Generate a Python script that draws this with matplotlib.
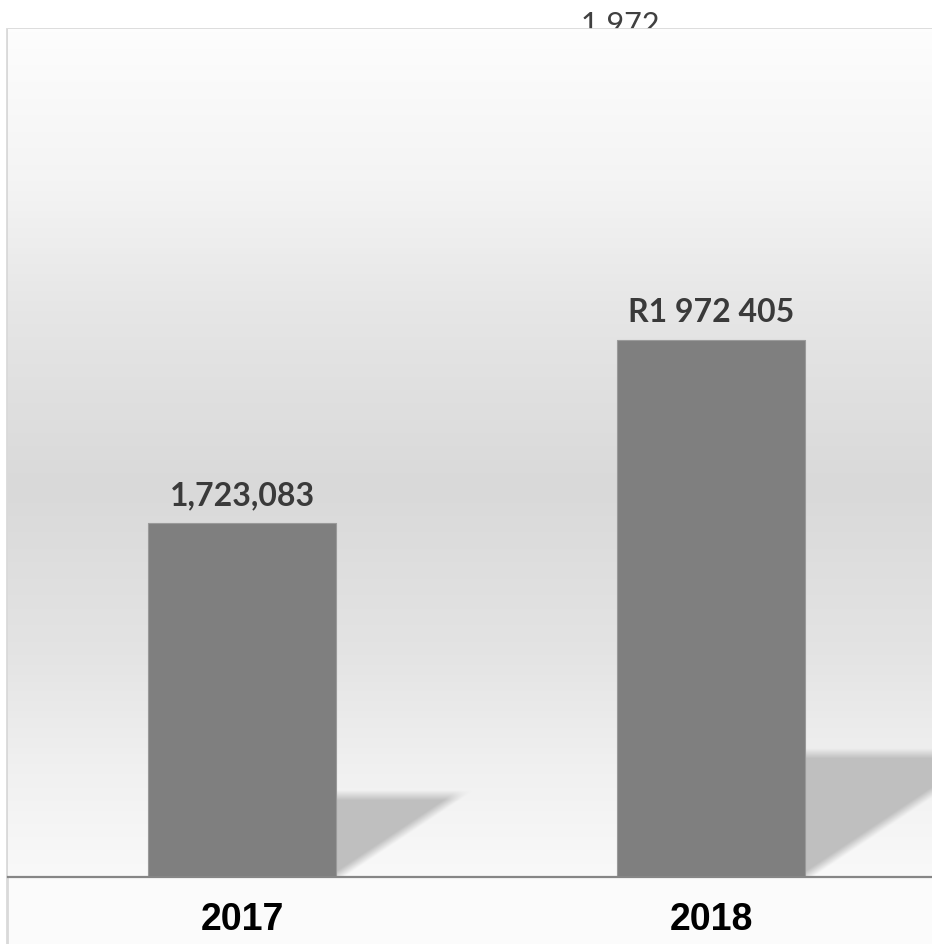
import numpy as np
import matplotlib
matplotlib.use("Agg")
import matplotlib.pyplot as plt
from matplotlib.colors import LinearSegmentedColormap
from matplotlib.patches import Rectangle

# data
years = ["2017", "2018"]
totals = [1723083, 1972405]
bar_labels = ["1,723,083", "R1 972 405"]
stray_label = "1 972"

W, H = 932, 944
fig = plt.figure(figsize=(W / 100, H / 100), dpi=100)
fig.patch.set_facecolor("white")

# outer chart frame (runs off the right and bottom edges)
frame = Rectangle((7 / W, -0.1), 1.2, (H - 29) / H + 0.1, transform=fig.transFigure,
                  facecolor="#fbfbfb", edgecolor="#d9d9d9", linewidth=2, zorder=-2)
fig.patches.append(frame)

# leftover label sitting behind the frame
fig.text(620 / W, 1 - 34 / H, stray_label, ha="center", va="baseline",
         fontsize=22, color="#404040", family=["Lato", "DejaVu Sans"], zorder=-3)

ax_h = 877 - 29
ax = fig.add_axes([7.5 / W, (H - 877) / H, 938 / W, ax_h / H])
ax.set_xlim(-0.5, 1.5)
ymin, ymax = 1240800, 2396100
ax.set_ylim(ymin, ymax)

# plot area gradient
grad = LinearSegmentedColormap.from_list(
    "bg", [(0.0, "#fdfdfd"), (0.18, "#f4f4f4"), (0.33, "#e6e6e6"),
           (0.54, "#d9d9d9"), (0.74, "#e4e4e4"), (0.88, "#f1f1f1"), (1.0, "#f9f9f9")])
ax.imshow(np.linspace(0, 1, 256).reshape(-1, 1), cmap=grad, aspect="auto",
          extent=[0, 1, 0, 1], transform=ax.transAxes, zorder=0)

x = np.arange(len(years))
bw = 0.4
bars = ax.bar(x, totals, width=bw, color="#7f7f7f", edgecolor="#9a9a9a",
              linewidth=0.8, zorder=3)

# soft perspective shadows to the right of each bar
px_x = 938 / 2.0                 # pixels per x unit
px_y = ax_h / (ymax - ymin)      # pixels per value unit
for xi, v in zip(x, totals):
    h_px = 0.23 * (v - ymin) * px_y
    w_px = 1.5 * h_px
    xr = xi + bw / 2
    gx = np.linspace(0, w_px + 25, 300)
    gy = np.linspace(0, h_px + 25, 200)
    GX, GY = np.meshgrid(gx, gy)
    soft = 10.0
    a_top = np.clip((h_px - GY) / soft + 0.5, 0, 1)
    a_diag = np.clip((GY * w_px / h_px - GX) / (soft * 1.6) + 0.5, 0, 1)
    alpha = a_top * a_diag
    rgba = np.zeros(GX.shape + (4,))
    rgba[..., :3] = 0.75
    rgba[..., 3] = alpha
    ax.imshow(rgba, origin="lower", aspect="auto", interpolation="bilinear",
              extent=[xr, xr + (w_px + 25) / px_x, ymin, ymin + (h_px + 25) / px_y],
              zorder=2)

for xi, v, lab in zip(x, totals, bar_labels):
    ax.annotate(lab, (xi, v), xytext=(0, 13), textcoords="offset points",
                ha="center", va="baseline", fontsize=23, fontweight="bold",
                color="#3a3a3a", family=["Lato", "DejaVu Sans"])

for s in ["top", "left", "right"]:
    ax.spines[s].set_visible(False)
ax.spines["bottom"].set_color("#868686")
ax.spines["bottom"].set_linewidth(1.6)
ax.spines["bottom"].set_zorder(4)
ax.set_yticks([])
ax.set_xticks(x)
ax.set_xticklabels(years, fontsize=27, fontweight="bold", color="black",
                   fontstretch="condensed",
                   family=["DejaVu Sans Condensed", "Liberation Sans", "DejaVu Sans"])
ax.tick_params(axis="x", length=0, pad=18)

fig.savefig("out.png", dpi=100)
